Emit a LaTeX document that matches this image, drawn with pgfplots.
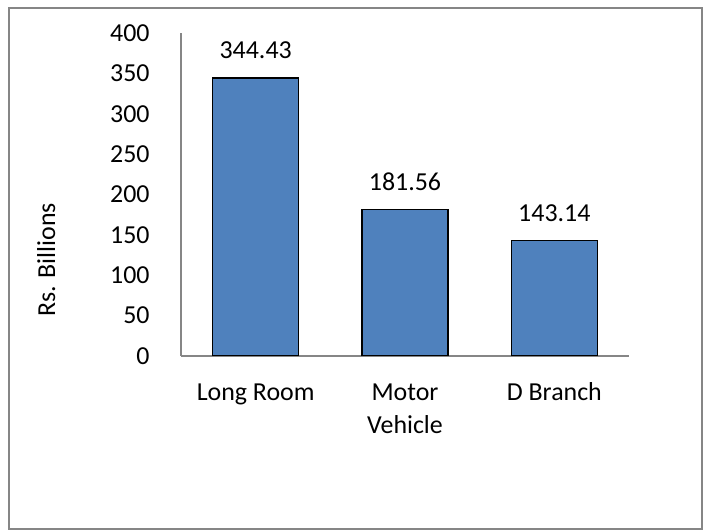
\documentclass[border=0pt]{standalone}
\usepackage{pgfplots}
\pgfplotsset{compat=1.18}
\usepackage{fontspec}
\setmainfont{Carlito}
\definecolor{barblue}{HTML}{4F81BD}
\definecolor{axgray}{HTML}{868686}
\begin{document}
\begin{tikzpicture}
\path (0,0) rectangle (351.5bp,265bp);
\draw[axgray, line width=1.2bp] (4.5bp,0.6bp) rectangle (350.9bp,261bp);
\begin{axis}[
  at={(90.5bp,87bp)}, anchor=south west, scale only axis,
  width=224bp, height=161.5bp,
  xmin=-0.5, xmax=2.5, ymin=0, ymax=400,
  axis x line*=bottom, axis y line*=left,
  axis line style={axgray, line width=0.7bp, -},
  ytick={0,50,...,400}, xtick={0,1,2},
  xticklabels={\strut Long Room, \strut Motor\\Vehicle, \strut D Branch},
  major tick length=0pt,
  /pgf/number format/assume math mode=true,
  tick label style={font=\fontsize{13}{16.5}\selectfont, text=black},
  xticklabel style={align=center, anchor=north, inner sep=0pt, yshift=-10.45bp},
  yticklabel style={anchor=east, inner sep=0pt, xshift=-15.5bp},
  ybar, bar width=43bp,
  point meta=explicit symbolic,
  nodes near coords,
  nodes near coords style={font=\fontsize{13}{15}\selectfont, anchor=base, inner sep=0pt, yshift=9.5bp, text=black},
  ylabel={Rs. Billions},
  ylabel style={at={(axis description cs:-0.301,0.297)}, anchor=center, font=\fontsize{13}{15}\selectfont},
]
\addplot[fill=barblue, draw=black, line width=0.7bp] coordinates {
  (0,344.43) [344.43]
  (1,181.56) [181.56]
  (2,143.14) [143.14]
};
\end{axis}
\end{tikzpicture}
\end{document}
